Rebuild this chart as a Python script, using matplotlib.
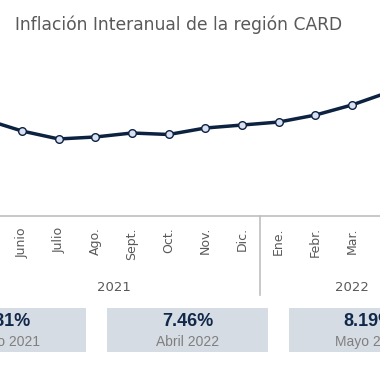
import matplotlib.pyplot as plt
from matplotlib.patches import Rectangle

# datos
meses = ["Mayo", "Junio", "Julio", "Ago.", "Sept.", "Oct.", "Nov.", "Dic.",
         "Ene.", "Febr.", "Mar.", "Abr.", "Mayo"]
anios = ["2021"] * 8 + ["2022"] * 5
inflacion = [5.81, 5.12, 4.64, 4.76, 5.00, 4.91, 5.30, 5.48,
             5.66, 6.08, 6.69, 7.46, 8.19]
nombres_mes = {"Mayo": "Mayo", "Abr.": "Abril"}
cajas = [0, 11, 12]  # indices resaltados

azul = "#0D2240"
gris = "#595959"

fig = plt.figure(figsize=(3.8, 3.8), dpi=100)
fig.patch.set_facecolor("white")

# eje principal (mas ancho que la figura, recortado como el original)
ax = fig.add_axes([-33 / 380, 164 / 380, 476.7 / 380, 166 / 380])
x = list(range(len(meses)))
ax.plot(x, inflacion, color=azul, lw=2.5, marker="o", ms=5.5,
        mfc="#D9E1F2", mec=azul, mew=1.0, zorder=3)
ax.set_xlim(-0.5, len(meses) - 0.5)
ax.set_ylim(0, 10)
ax.set_yticks([])
for s in ["top", "left", "right"]:
    ax.spines[s].set_visible(False)
ax.spines["bottom"].set_color("#BFBFBF")
ax.spines["bottom"].set_linewidth(1.2)
ax.set_xticks(x)
ax.set_xticklabels(meses, rotation=90, fontsize=9, color=gris)
ax.tick_params(axis="x", length=0, pad=8)

# separador entre anios y etiquetas de anio
tr = ax.get_xaxis_transform()
for i in range(1, len(anios)):
    if anios[i] != anios[i - 1]:
        ax.plot([i - 0.5, i - 0.5], [0, -0.476], transform=tr, color="#BFBFBF",
                lw=1.2, clip_on=False)
for a in sorted(set(anios)):
    idx = [i for i, v in enumerate(anios) if v == a]
    ax.text(sum(idx) / len(idx), -0.428, a, transform=tr, ha="center",
            va="center", fontsize=9.5, color=gris)

fig.text(15 / 380, 1 - 25 / 380, "Inflación Interanual de la región CARD",
         ha="left", va="center", fontsize=12.3, color=gris)

# cajas inferiores
for k, i in enumerate(cajas):
    cx = (5.5 + 182 * k) / 380
    w = 161 / 380
    fig.patches.append(Rectangle((cx - w / 2, 28 / 380), w, 44 / 380,
                                 transform=fig.transFigure,
                                 facecolor="#D6DCE4", edgecolor="none"))
    fig.text(cx, 58 / 380, f"{inflacion[i]:.2f}%", ha="center", va="center",
             fontsize=13, fontweight="bold", color="#12284A",
             family="Liberation Sans")
    fig.text(cx, 38 / 380, f"{nombres_mes.get(meses[i], meses[i])} {anios[i]}",
             ha="center", va="center", fontsize=10, color="#7F7F7F",
             family="Liberation Sans")

plt.savefig("out.png", dpi=100)
